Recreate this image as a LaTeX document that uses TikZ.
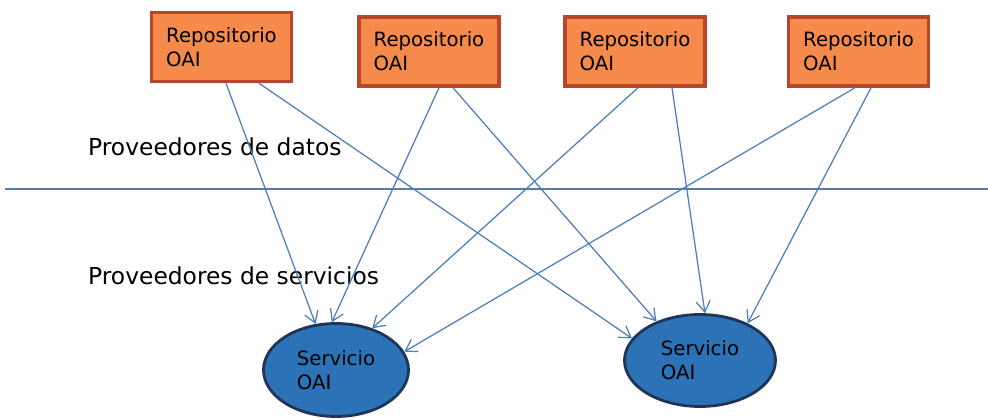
\documentclass[tikz,border=0pt]{standalone}
\usepackage{fontspec}
\setmainfont{DejaVu Sans}
\usetikzlibrary{arrows.meta, shapes.geometric}
\definecolor{repofill}{HTML}{F58A4B}
\definecolor{repoedge}{HTML}{B5482A}
\definecolor{servfill}{HTML}{2C72B6}
\definecolor{servedge}{HTML}{1F3558}
\definecolor{linkcol}{HTML}{4A7EBB}
\definecolor{sepcol}{HTML}{5A7BA6}

\begin{document}
\begin{tikzpicture}[
  repo/.style={rectangle, draw=repoedge, fill=repofill, line width=2pt,
               minimum width=2.8cm, minimum height=1.38cm, align=left,
               font=\fontsize{11.2}{13.5}\selectfont},
  serv/.style={ellipse, draw=servedge, fill=servfill, line width=1.6pt,
               minimum width=2.9cm, minimum height=1.86cm, align=left,
               font=\fontsize{11.2}{13.5}\selectfont},
  link/.style={draw=linkcol, line width=0.7pt, -{Straight Barb[length=2.2mm, width=2.8mm]}},
  lab/.style={anchor=base west, font=\fontsize{13.3}{16}\selectfont},
]
\useasboundingbox (0,0) rectangle (19.76,8.4);
% ================= data providers (top row) =================================
\node[repo] (r1) at (4.43, 7.46) {Repositorio\\OAI};
\node[repo] (r2) at (8.58, 7.37) {Repositorio\\OAI};
\node[repo] (r3) at (12.70, 7.37) {Repositorio\\OAI};
\node[repo] (r4) at (17.17, 7.37) {Repositorio\\OAI};
% ================= layer labels + separator ==================================
\node[lab] (datos) at (1.64, 5.28) {Proveedores de datos};
\node[lab] (servicios) at (1.64, 2.70) {Proveedores de servicios};
\coordinate (sepl) at (0.1, 4.62);
\coordinate (sepr) at (19.76, 4.62);
\draw[sepcol, line width=0.8pt] (sepl) -- (sepr);
% ================= service providers (bottom) ================================
\node[serv] (s1) at (6.72, 1.0) {Servicio\\OAI};
\node[serv, minimum width=3.02cm, minimum height=1.84cm] (s2) at (14.0, 1.19) {Servicio\\OAI};
% harvesting links: every repository feeds both services
\draw[link] ([xshift=0.09cm]r1.south) -- (s1.114.7);
\draw[link] ([xshift=0.75cm]r1.south) -- (s2.162);
\draw[link] ([xshift=0.20cm]r2.south) -- (s1.95);
\draw[link] ([xshift=0.48cm]r2.south) -- (s2.138);
\draw[link] ([xshift=0.06cm]r3.south) -- (s1.49);
\draw[link] ([xshift=0.74cm]r3.south) -- (s2.84);
\draw[link] ([xshift=-0.07cm]r4.south) -- (s1.15);
\draw[link] ([xshift=0.25cm]r4.south) -- (s2.38);
\end{tikzpicture}
\end{document}
